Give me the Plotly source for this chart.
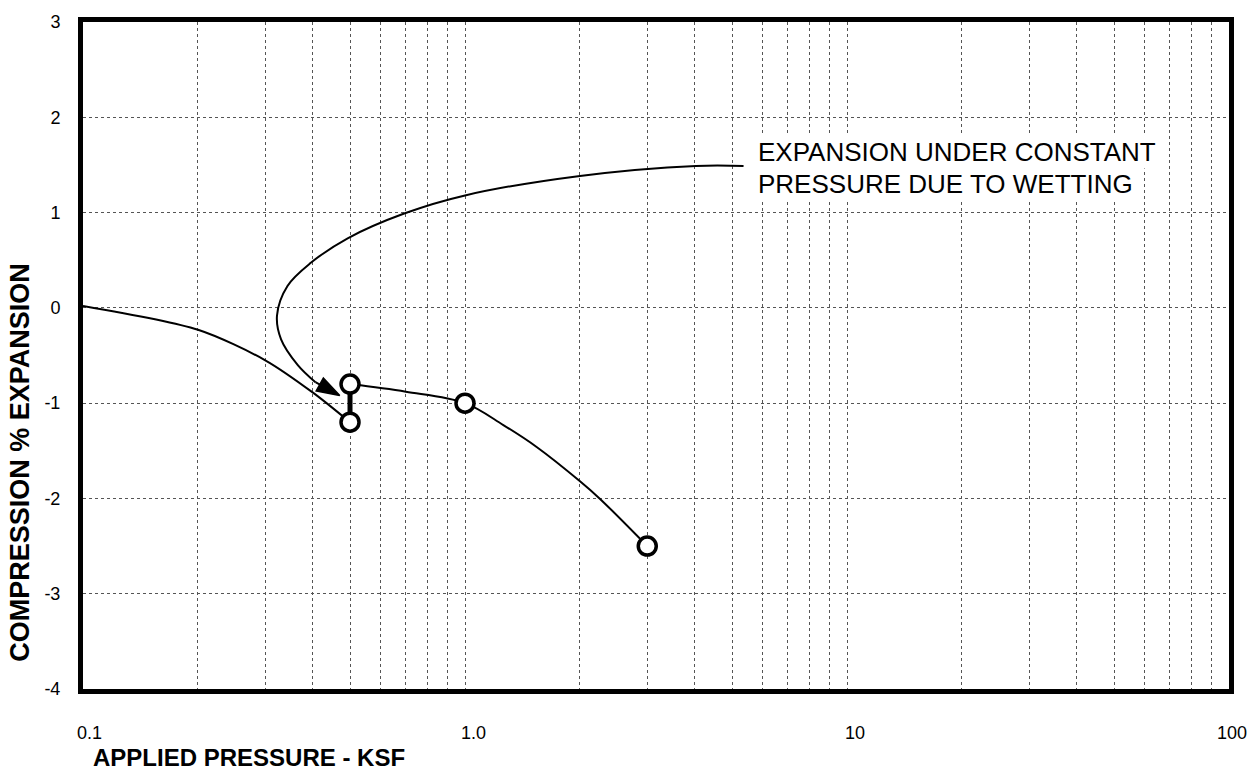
import plotly.graph_objects as go
import numpy as np

# Data
pts_x = [0.5, 0.5, 1.0, 3.0]
pts_y = [-0.8, -1.2, -1.0, -2.5]

curve1_x = [0.1, 0.2, 0.3, 0.4, 0.5]
curve1_y = [0.02, -0.23, -0.55, -0.89, -1.2]

curve2_x = [0.5, 0.7, 1.0, 1.26, 1.54, 2.0, 2.25, 3.0]
curve2_y = [-0.8, -0.88, -1.0, -1.23, -1.46, -1.82, -2.0, -2.5]

wet_x = [0.5, 0.5]
wet_y = [-0.8, -1.2]

leader_x = [5.36, 4.02, 2.0, 1.0, 0.693, 0.493, 0.394, 0.343, 0.322, 0.330, 0.365, 0.406]
leader_y = [1.49, 1.49, 1.385, 1.18, 0.99, 0.73, 0.47, 0.23, -0.08, -0.33, -0.60, -0.78]
arrow_x = [0.406, 0.470]
arrow_y = [-0.78, -0.92]

x_tick_vals = [0.1, 1.0, 10, 100]
x_tick_text = ["0.1", "1.0", "10", "100"]
y_tick_vals = [-4, -3, -2, -1, 0, 1, 2, 3]

grid_x = [m * 10.0 ** d for d in (-1, 0, 1) for m in range(1, 10)][1:] + [100]

FONT = "Liberation Sans, Arial, sans-serif"

W, H = 1258, 773
PL, PR, PT, PB = 83, 1229, 17, 689
PW, PH = PR - PL, PB - PT


def px(sx):
    return (sx - PL) / PW


def py(sy):
    return (PB - sy) / PH


fig = go.Figure()

fig.add_trace(go.Scatter(x=curve1_x, y=curve1_y, mode="lines",
                         line=dict(color="black", width=2, shape="spline", smoothing=0.8),
                         hoverinfo="skip", showlegend=False))
fig.add_trace(go.Scatter(x=curve2_x, y=curve2_y, mode="lines",
                         line=dict(color="black", width=2, shape="spline", smoothing=1.0),
                         hoverinfo="skip", showlegend=False))
fig.add_trace(go.Scatter(x=leader_x, y=leader_y, mode="lines",
                         line=dict(color="black", width=2, shape="spline", smoothing=1.0),
                         hoverinfo="skip", showlegend=False))
fig.add_trace(go.Scatter(x=arrow_x, y=arrow_y, mode="lines+markers",
                         line=dict(color="black", width=2),
                         marker=dict(symbol="arrow", size=[0, 24], angleref="previous",
                                     opacity=1, color="#000000",
                                     line=dict(width=1.5, color="#000000")),
                         hoverinfo="skip", showlegend=False))
fig.add_trace(go.Scatter(x=wet_x, y=wet_y, mode="lines",
                         line=dict(color="black", width=5),
                         hoverinfo="skip", showlegend=False))
fig.add_trace(go.Scatter(x=pts_x, y=pts_y, mode="markers",
                         marker=dict(symbol="circle", size=18, color="white",
                                     line=dict(color="black", width=3.5)),
                         hoverinfo="skip", showlegend=False))

annotations = []
# x tick labels
x_shifts = [6, 8, 8, 3]
for v, t, s in zip(x_tick_vals, x_tick_text, x_shifts):
    annotations.append(dict(x=np.log10(v), y=py(733), xref="x", yref="paper",
                            text=t, showarrow=False, xanchor="center", yanchor="middle",
                            xshift=s, font=dict(family=FONT, size=18, color="black")))
# axis titles
annotations.append(dict(x=px(91), y=py(758), xref="paper", yref="paper",
                        text="<b>APPLIED PRESSURE - KSF</b>", showarrow=False,
                        xanchor="left", yanchor="middle",
                        font=dict(family=FONT, size=24, color="black")))
annotations.append(dict(x=px(20), y=py(461), xref="paper", yref="paper",
                        text="<b>COMPRESSION % EXPANSION</b>", showarrow=False, textangle=-90,
                        xanchor="center", yanchor="middle", borderpad=0,
                        font=dict(family=FONT, size=27, color="black")))
# callout text
annotations.append(dict(x=px(756), y=py(148), xref="paper", yref="paper",
                        text="EXPANSION UNDER CONSTANT", showarrow=False,
                        xanchor="left", yanchor="middle", bgcolor="white",
                        font=dict(family=FONT, size=26, color="black")))
annotations.append(dict(x=px(756), y=py(180), xref="paper", yref="paper",
                        text="PRESSURE DUE TO WETTING", showarrow=False,
                        xanchor="left", yanchor="middle", bgcolor="white",
                        font=dict(family=FONT, size=26, color="black")))

fig.update_layout(
    width=W, height=H,
    margin=dict(l=PL, r=W - PR, t=PT, b=H - PB),
    paper_bgcolor="white", plot_bgcolor="white",
    annotations=annotations,
    font=dict(family=FONT, color="black"),
)
fig.update_xaxes(type="log", range=[-1, 2], tickvals=grid_x, ticktext=[""] * len(grid_x),
                 showgrid=True, gridcolor="#555555", gridwidth=1, griddash="dot",
                 showline=True, linecolor="black", linewidth=5, mirror=True,
                 ticks="", zeroline=False)
fig.update_yaxes(range=[-4, 3], tickvals=y_tick_vals, ticktext=[str(v) for v in y_tick_vals],
                 showgrid=True, gridcolor="#555555", gridwidth=1, griddash="dot",
                 showline=True, linecolor="black", linewidth=5, mirror=True,
                 ticks="", ticklabelstandoff=14, zeroline=False,
                 tickfont=dict(family=FONT, size=18, color="black"))

fig.write_html("out.html", config={"displayModeBar": False},
               post_script="document.body.style.margin='0';document.body.style.overflow='hidden';")
